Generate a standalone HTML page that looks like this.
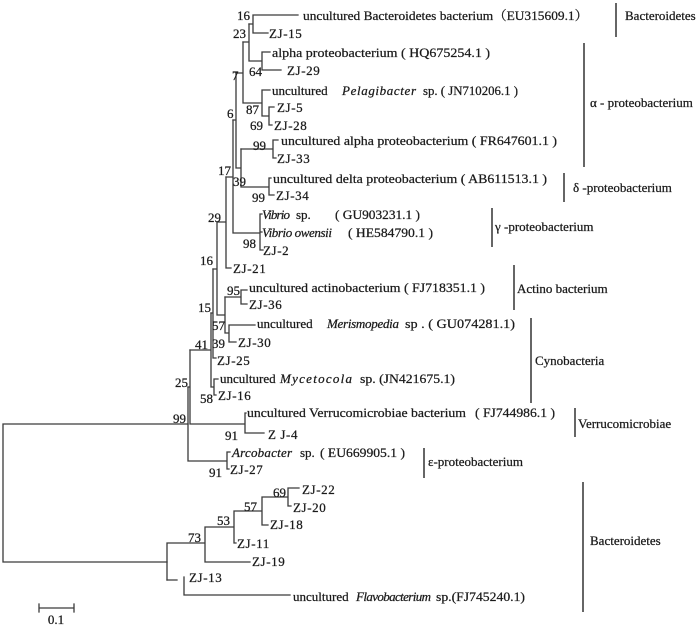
<!DOCTYPE html>
<html><head><meta charset="utf-8"><style>
html,body{margin:0;padding:0;background:#fff;}
svg{display:block;}
text{font-family:"Liberation Serif","Noto Serif CJK SC",serif;font-size:13px;fill:#1a1a1a;stroke:#1a1a1a;stroke-width:0.25px;}
.i{font-style:italic;}
.z{letter-spacing:0.6px;}
</style></head><body>
<svg width="700" height="637" viewBox="0 0 700 637" xmlns="http://www.w3.org/2000/svg">
<g stroke="#3a3a3a" stroke-width="1.3" fill="none" stroke-linecap="square">
<path d="M253 15H298M253 33H268M253 15V33M249 24H253"/>
<path d="M262 52H270M262 70H281M262 52V70M249 61H262M249 24V61M243 42H249"/>
<path d="M262 90H270M269 107H274M269 125H272M269 107V125M262 116H269M262 90V116M243 103H262M243 42V103M236 73H243"/>
<path d="M273 140H278M273 158H276M273 140V158M241 149H273"/>
<path d="M269 178H271M269 195H274M269 178V195M241 187H269M241 149V187M236 168H241M236 73V168M233 120H236"/>
<path d="M260 214H262M260 232H262M260 250H263M260 214V250M233 233H260M233 120V233M226 177H233"/>
<path d="M226 268H231M226 177V268M217 222H226"/>
<path d="M241 290H247M241 304H247M241 290V304M225 297H241"/>
<path d="M229 325H255M229 342H236M229 325V342M225 333H229M225 297V333M217 315H225M217 222V315M213 269H217"/>
<path d="M213 358H216M213 269V358M211 313H213"/>
<path d="M214 379H218M214 395H216M214 379V395M211 387H214M211 313V387M190 350H211"/>
<path d="M245 413H246M245 433H264M245 413V433M190 424H245M190 350V424M188 387H190"/>
<path d="M227 452H230M227 469H229M227 452V469M188 461H227M188 387V461"/>
<path d="M3 424H188M3 424V562M3 562H167"/>
<path d="M167 543V580M167 543H205M205 527V562M205 562H250M205 527H234M234 511V543M234 543H236M234 511H262M262 497V525M262 525H268M262 497H288M288 488V506M288 488H299M288 506H291"/>
<path d="M167 580H177M184 577V595M184 595H290"/>
<path d="M39 608H74M39 604V612M74 604V612"/>
</g>
<g stroke="#333" stroke-width="1.5" fill="none">
<path d="M616 3V37M584 43V167M564 173V202M492 208V247M514 265V310M531 318V403M575 408V437M424 448V478M583 482V612"/>
</g>

<text x="303" y="20" textLength="285" lengthAdjust="spacingAndGlyphs">uncultured Bacteroidetes bacterium（EU315609.1）</text>
<text x="269" y="38" class="z">ZJ-15</text>
<text x="272" y="57" textLength="218" lengthAdjust="spacingAndGlyphs">alpha proteobacterium  ( HQ675254.1 )</text>
<text x="287" y="75" class="z">ZJ-29</text>
<text x="272" y="95">uncultured</text>
<text x="342" y="95" class="i" textLength="74" lengthAdjust="spacing">Pelagibacter</text>
<text x="423" y="95" textLength="95" lengthAdjust="spacingAndGlyphs">sp. ( JN710206.1 )</text>
<text x="277" y="112" class="z">ZJ-5</text>
<text x="274" y="130" class="z">ZJ-28</text>
<text x="281" y="145" textLength="276" lengthAdjust="spacingAndGlyphs">uncultured alpha proteobacterium ( FR647601.1 )</text>
<text x="277" y="163" class="z">ZJ-33</text>
<text x="273" y="183" textLength="274" lengthAdjust="spacingAndGlyphs">uncultured delta proteobacterium ( AB611513.1 )</text>
<text x="276" y="200" class="z">ZJ-34</text>
<text x="262" y="219" class="i" textLength="28" lengthAdjust="spacing">Vibrio</text>
<text x="296" y="219">sp.</text>
<text x="335" y="219" textLength="85" lengthAdjust="spacingAndGlyphs">( GU903231.1 )</text>
<text x="262" y="237" class="i" textLength="70" lengthAdjust="spacing">Vibrio owensii</text>
<text x="348" y="237" textLength="85" lengthAdjust="spacingAndGlyphs">( HE584790.1 )</text>
<text x="263" y="255" class="z">ZJ-2</text>
<text x="233" y="273" class="z">ZJ-21</text>
<text x="249" y="292" textLength="236" lengthAdjust="spacingAndGlyphs">uncultured actinobacterium ( FJ718351.1 )</text>
<text x="249" y="309" class="z">ZJ-36</text>
<text x="257" y="328">uncultured</text>
<text x="327" y="328" class="i" textLength="72" lengthAdjust="spacing">Merismopedia</text>
<text x="405" y="328" textLength="110" lengthAdjust="spacingAndGlyphs">sp . ( GU074281.1)</text>
<text x="238" y="347" class="z">ZJ-30</text>
<text x="217" y="365" class="z">ZJ-25</text>
<text x="220" y="383">uncultured</text>
<text x="280" y="383" class="i" textLength="72" lengthAdjust="spacing">Mycetocola</text>
<text x="360" y="383" textLength="95" lengthAdjust="spacingAndGlyphs">sp. (JN421675.1)</text>
<text x="218" y="400" class="z">ZJ-16</text>
<text x="247" y="417" textLength="219" lengthAdjust="spacingAndGlyphs">uncultured Verrucomicrobiae bacterium</text>
<text x="475" y="417" textLength="80" lengthAdjust="spacingAndGlyphs">( FJ744986.1 )</text>
<text x="268" y="439" class="z">Z J-4</text>
<text x="232" y="457" class="i" textLength="60" lengthAdjust="spacing">Arcobacter</text>
<text x="300" y="457">sp.</text>
<text x="320" y="457" textLength="85" lengthAdjust="spacingAndGlyphs">( EU669905.1 )</text>
<text x="230" y="474" class="z">ZJ-27</text>
<text x="302" y="494" class="z">ZJ-22</text>
<text x="293" y="512" class="z">ZJ-20</text>
<text x="270" y="529" class="z">ZJ-18</text>
<text x="237" y="548" class="z">ZJ-11</text>
<text x="252" y="566" class="z">ZJ-19</text>
<text x="189" y="582" class="z">ZJ-13</text>
<text x="293" y="601">uncultured</text>
<text x="356" y="601" class="i" textLength="75" lengthAdjust="spacing">Flavobacterium</text>
<text x="436" y="601" textLength="89" lengthAdjust="spacingAndGlyphs">sp.(FJ745240.1)</text>

<text x="237" y="20">16</text>
<text x="233" y="38">23</text>
<text x="232" y="80">7</text>
<text x="249" y="76">64</text>
<text x="227" y="118">6</text>
<text x="246" y="114">87</text>
<text x="250" y="130">69</text>
<text x="253" y="150">99</text>
<text x="218" y="175">17</text>
<text x="233" y="186">39</text>
<text x="252" y="202">99</text>
<text x="208" y="222">29</text>
<text x="243" y="248">98</text>
<text x="200" y="265">16</text>
<text x="227" y="295">95</text>
<text x="198" y="312">15</text>
<text x="212" y="330">57</text>
<text x="212" y="348">39</text>
<text x="195" y="349">41</text>
<text x="175" y="387">25</text>
<text x="200" y="403">58</text>
<text x="173" y="423">99</text>
<text x="225" y="440">91</text>
<text x="209" y="477">91</text>
<text x="273" y="497">69</text>
<text x="244" y="511">57</text>
<text x="217" y="525">53</text>
<text x="188" y="542">73</text>
<text x="56" y="624" text-anchor="middle">0.1</text>

<text x="625" y="20">Bacteroidetes</text>
<text x="590" y="107">α - proteobacterium</text>
<text x="573" y="192">δ -proteobacterium</text>
<text x="495" y="231">γ -proteobacterium</text>
<text x="517" y="293">Actino bacterium</text>
<text x="535" y="365">Cynobacteria</text>
<text x="578" y="428">Verrucomicrobiae</text>
<text x="428" y="466">ε-proteobacterium</text>
<text x="590" y="545">Bacteroidetes</text>
</svg>
</body></html>
